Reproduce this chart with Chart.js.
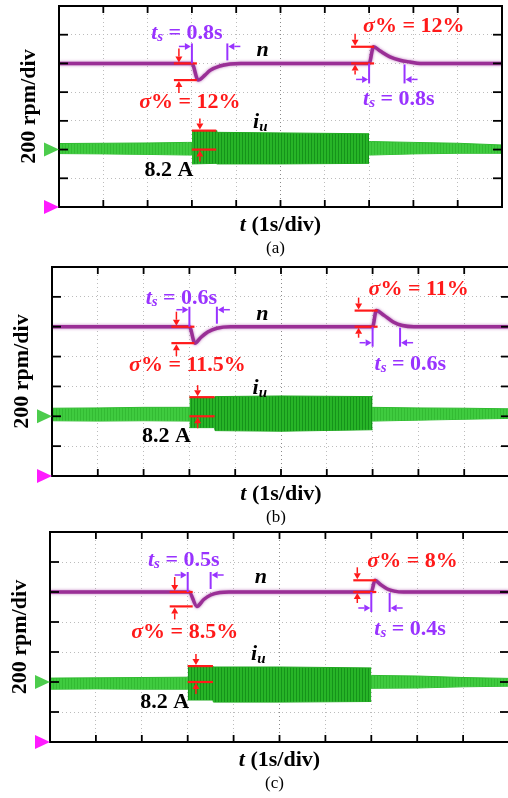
<!DOCTYPE html>
<html>
<head>
<meta charset="utf-8">
<script src="https://cdn.jsdelivr.net/npm/chart.js@4.4.0/dist/chart.umd.min.js"></script>
<style>
  html, body { margin: 0; padding: 0; background: #fff; overflow: hidden; }
  body { width: 508px; height: 798px; position: relative; }
  canvas { position: absolute; left: 0; }
</style>
</head>
<body>
<canvas id="scopeA" width="508" height="260" style="top:0px"></canvas>
<canvas id="scopeB" width="512" height="265" style="top:260px"></canvas>
<canvas id="scopeC" width="512" height="273" style="top:525px"></canvas>
<script>
// x: time in s (1 s/div), y: screen divisions (n: 200 rpm/div, i_u trace centred on div 2)
const eventT = [3, 7];       // load applied / removed
const currentZero = 2;       // i_u channel reference level
const ampA = 8.2, ampB = 8.2, ampC = 8.2;

// (a)
const speedTA = [0, 3.0, 3.14, 3.3, 3.41, 3.63, 3.86, 4.1, 7.0, 7.1, 7.25, 7.47, 7.7, 7.92, 8.15, 10];
const speedNA = [5, 5, 4.42, 4.6, 4.76, 4.91, 4.98, 5, 5, 5.58, 5.43, 5.23, 5.11, 5.05, 5, 5];
const idleTA = [0, 1, 2, 2.9, 3.0, 7.0, 7.05, 8, 9, 10];
const idleUpA = [2.21, 2.22, 2.23, 2.25, 2.25, 2.28, 2.28, 2.25, 2.22, 2.16];
const idleLoA = [1.86, 1.85, 1.83, 1.81, 1.81, 1.81, 1.81, 1.85, 1.87, 1.87];
const loadTA = [3.0, 3.55, 3.56, 5, 7.0];
const loadUpA = [2.66, 2.66, 2.6, 2.58, 2.55];
const loadLoA = [1.5, 1.52, 1.5, 1.5, 1.52];
const settleA = [0.8, 0.8];
const overshootA = [12, 12];

// (b)
const speedTB = [0, 3.0, 3.12, 3.25, 3.4, 3.6, 3.9, 7.0, 7.08, 7.25, 7.45, 7.65, 7.9, 10];
const speedNB = [5, 5, 4.45, 4.64, 4.82, 4.95, 5, 5, 5.54, 5.38, 5.16, 5.04, 5, 5];
const idleTB = [0, 1, 2, 3, 7, 8, 9, 10];
const idleUpB = [2.27, 2.28, 2.3, 2.3, 2.3, 2.28, 2.27, 2.25];
const idleLoB = [1.85, 1.84, 1.85, 1.84, 1.84, 1.87, 1.9, 1.93];
const loadTB = [3.0, 3.55, 3.56, 5, 7.0];
const loadUpB = [2.64, 2.64, 2.66, 2.68, 2.66];
const loadLoB = [1.62, 1.62, 1.52, 1.5, 1.55];
const settleB = [0.6, 0.6];
const overshootB = [11.5, 11];

// (c)
const speedTC = [0, 3.03, 3.2, 3.35, 3.5, 3.7, 3.9, 7.0, 7.08, 7.2, 7.35, 7.5, 7.7, 10];
const speedNC = [5, 5, 4.52, 4.75, 4.9, 4.98, 5, 5, 5.39, 5.25, 5.1, 5.03, 5, 5];
const idleTC = [0, 1, 2, 3, 7, 8, 9, 10];
const idleUpC = [2.13, 2.14, 2.15, 2.16, 2.22, 2.2, 2.15, 2.12];
const idleLoC = [1.76, 1.77, 1.76, 1.76, 1.79, 1.8, 1.84, 1.86];
const loadTC = [3.0, 3.55, 3.56, 5, 7.0];
const loadUpC = [2.53, 2.53, 2.5, 2.5, 2.47];
const loadLoC = [1.4, 1.4, 1.33, 1.33, 1.35];
const settleC = [0.5, 0.4];
const overshootC = [8.5, 8];

const RED = '#ff1a1a', VIOLET = '#9933ff', TRACE = '#9a2f96';
const SERIF = '"Liberation Serif", "Times New Roman", serif';
const F_B = 'bold 22px ' + SERIF;
const F_BI = 'italic bold 22px ' + SERIF;
const F_SUB = 'italic bold 15px ' + SERIF;

// vertical striping for the dense phase-current envelope
function stripes(base, dark) {
  const c = document.createElement('canvas');
  c.width = 3; c.height = 8;
  const g = c.getContext('2d');
  g.fillStyle = base; g.fillRect(0, 0, 3, 8);
  g.fillStyle = dark; g.fillRect(2, 0, 1, 8);
  return g.createPattern(c, 'repeat');
}

function rich(ctx, parts, x, y, align) {
  let w = 0;
  parts.forEach(p => { ctx.font = p[1]; w += ctx.measureText(p[0]).width; });
  let cx = align === 'center' ? x - w / 2 : align === 'right' ? x - w : x;
  ctx.textAlign = 'left';
  ctx.textBaseline = 'alphabetic';
  parts.forEach(p => {
    ctx.font = p[1];
    ctx.fillText(p[0], cx, y + (p[2] || 0));
    cx += ctx.measureText(p[0]).width;
  });
}

function arrow(ctx, x1, y1, x2, y2) {
  const a = Math.atan2(y2 - y1, x2 - x1), h = 6, w = 3.5;
  const c = Math.cos(a), s = Math.sin(a);
  ctx.beginPath();
  ctx.moveTo(x1, y1);
  ctx.lineTo(x2 - c * h, y2 - s * h);
  ctx.stroke();
  ctx.beginPath();
  ctx.moveTo(x2, y2);
  ctx.lineTo(x2 - c * h - s * w, y2 - s * h + c * w);
  ctx.lineTo(x2 - c * h + s * w, y2 - s * h - c * w);
  ctx.closePath();
  ctx.fill();
}

function line(ctx, x1, y1, x2, y2) {
  ctx.beginPath();
  ctx.moveTo(x1, y1);
  ctx.lineTo(x2, y2);
  ctx.stroke();
}

function tri(ctx, x, y, color) {
  ctx.fillStyle = color;
  ctx.beginPath();
  ctx.moveTo(x, y);
  ctx.lineTo(x - 15, y - 7);
  ctx.lineTo(x - 15, y + 7);
  ctx.closePath();
  ctx.fill();
}

function scope(id, d, box) {
  const canvas = document.getElementById(id);
  const W = canvas.width, H = canvas.height;
  const pts = (xs, ys) => xs.map((x, i) => ({ x: x, y: ys[i] }));
  const band = { pointRadius: 0, borderWidth: 1, tension: 0 };

  // soft edge on the speed trace, like the scope's noisy line
  const glow = {
    id: 'glow',
    beforeDatasetDraw(chart, args) {
      if (args.index !== 0) return;
      chart.ctx.save();
      chart.ctx.shadowColor = 'rgba(160, 60, 160, 0.7)';
      chart.ctx.shadowBlur = 3;
    },
    afterDatasetDraw(chart, args) {
      if (args.index === 0) chart.ctx.restore();
    }
  };

  const decor = {
    id: 'decor',
    afterDraw(chart) {
      const ctx = chart.ctx, a = chart.chartArea;
      const sx = chart.scales.x, sy = chart.scales.y;
      const X = v => sx.getPixelForValue(v);
      const Y = v => sy.getPixelForValue(v);
      ctx.save();

      // frame with inward tick marks
      ctx.strokeStyle = '#000';
      ctx.lineWidth = 2;
      ctx.strokeRect(a.left, a.top, a.right - a.left, a.bottom - a.top);
      ctx.lineWidth = 1.8;
      sx.ticks.forEach(t => {
        const x = X(t.value);
        line(ctx, x, a.top, x, a.top + 7);
        line(ctx, x, a.bottom, x, a.bottom - 7);
      });
      sy.ticks.forEach(t => {
        const y = Y(t.value);
        line(ctx, a.left, y, a.left + 9, y);
        line(ctx, a.right, y, a.right - 9, y);
      });

      // channel reference markers
      tri(ctx, a.left, Y(currentZero), '#4ccc4c');
      tri(ctx, a.left, Y(0), '#ff1aff');

      const t0 = eventT[0], t1 = eventT[1];
      const yN = Y(d.speedN[0]);
      const yDip = Y(Math.min(...d.speedN));
      const yPk = Y(Math.max(...d.speedN));
      const L = box.lab;

      // overshoot markers
      ctx.strokeStyle = RED; ctx.fillStyle = RED;
      ctx.lineWidth = 2.2;
      line(ctx, X(t0) - 18, yN, X(t0) + 5, yN);
      line(ctx, X(t0) - 18, yDip, X(t0) + 5, yDip);
      line(ctx, X(t1) - 18, yPk, X(t1) + 5, yPk);
      line(ctx, X(t1) - 18, yN, X(t1) + 5, yN);
      ctx.lineWidth = 1.5;
      arrow(ctx, X(t0) - 13, yN - 15, X(t0) - 13, yN - 1);
      arrow(ctx, X(t0) - 13, yDip + 13, X(t0) - 13, yDip + 1);
      arrow(ctx, X(t1) - 14, yPk - 13, X(t1) - 14, yPk - 1);
      arrow(ctx, X(t1) - 14, yN + 11, X(t1) - 14, yN + 1);

      // current amplitude marker
      const yTop = Y(d.loadUp[0]), yMid = Y(currentZero);
      ctx.lineWidth = 2.2;
      line(ctx, X(d.loadT[0]), yTop, X(d.loadT[1]), yTop);
      line(ctx, X(d.loadT[0]), yMid, X(d.loadT[1]), yMid);
      ctx.lineWidth = 1.5;
      arrow(ctx, X(3.18), yTop - 12, X(3.18), yTop - 1);
      arrow(ctx, X(3.18), yMid + 12, X(3.18), yMid + 1);

      // settling time markers
      const e0 = X(t0 + d.settle[0]), e1 = X(t1 + d.settle[1]);
      ctx.strokeStyle = VIOLET; ctx.fillStyle = VIOLET;
      ctx.lineWidth = 2;
      line(ctx, X(t0), yN - 20, X(t0), yN);
      line(ctx, e0, yN - 20, e0, yN - 3);
      line(ctx, X(t1), yN, X(t1), yN + 20);
      line(ctx, e1, yN + 1, e1, yN + 20);
      ctx.lineWidth = 1.5;
      arrow(ctx, X(t0) - 13, yN - 17, X(t0) - 1, yN - 17);
      arrow(ctx, e0 + 13, yN - 17, e0 + 1, yN - 17);
      arrow(ctx, X(t1) - 13, yN + 16, X(t1) - 1, yN + 16);
      arrow(ctx, e1 + 13, yN + 16, e1 + 1, yN + 16);

      // labels
      const tsText = v => [['t', F_BI], ['s', F_SUB, 2], [' = ' + v + 's', F_B]];
      const sgText = v => [['\u03c3', F_BI], ['% = ' + v + '%', F_B]];
      ctx.fillStyle = VIOLET;
      rich(ctx, tsText(d.settle[0]), X(t0) + L.tsL[0], yN + L.tsL[1], 'center');
      rich(ctx, tsText(d.settle[1]), X(t1) + L.tsR[0], yN + L.tsR[1], 'left');
      ctx.fillStyle = RED;
      rich(ctx, sgText(d.overshoot[0]), X(t0) + L.sgL[0], yDip + L.sgL[1], 'center');
      rich(ctx, sgText(d.overshoot[1]), X(t1) + L.sgR[0], yPk + L.sgR[1], 'left');
      ctx.fillStyle = '#000';
      rich(ctx, [['n', F_BI]], X(4.46), yN + L.nY, 'left');
      rich(ctx, [['i', F_BI], ['u', F_SUB, 3]], X(4.38), yMid - 22, 'left');
      rich(ctx, [[d.amp + ' A', F_B]], X(t0) + 1.5, yMid + 26, 'right');

      // axis titles and caption
      const midX = (a.left + a.right) / 2;
      rich(ctx, [['t', F_BI], [' (1s/div)', F_B]], midX, a.bottom + 24, 'center');
      rich(ctx, [[box.caption, '17px ' + SERIF]], midX - 5, a.bottom + 46, 'center');
      ctx.translate(a.left - 30, (a.top + a.bottom) / 2);
      ctx.rotate(-Math.PI / 2);
      ctx.font = F_B;
      ctx.textAlign = 'center';
      ctx.textBaseline = 'middle';
      ctx.fillText('200 rpm/div', 0, 0);
      ctx.restore();
    }
  };

  new Chart(canvas, {
    type: 'line',
    data: {
      datasets: [
        { data: pts(d.speedT, d.speedN), borderColor: TRACE, borderWidth: 3.5, pointRadius: 0,
          cubicInterpolationMode: 'monotone', fill: false },
        Object.assign({ data: pts(d.loadT, d.loadUp), borderColor: '#1fa81f',
          backgroundColor: stripes('#27b427', '#15931a'), fill: '+1' }, band),
        Object.assign({ data: pts(d.loadT, d.loadLo), borderColor: '#1fa81f', fill: false }, band),
        Object.assign({ data: pts(d.idleT, d.idleUp), borderColor: '#2fbb2f',
          backgroundColor: stripes('#3fcb3f', '#33bb33'), fill: '+1' }, band),
        Object.assign({ data: pts(d.idleT, d.idleLo), borderColor: '#2fbb2f', fill: false }, band)
      ]
    },
    options: {
      responsive: false,
      animation: false,
      events: [],
      layout: { padding: { left: box.l, top: box.t, right: W - box.r, bottom: H - box.b } },
      plugins: { legend: { display: false }, tooltip: { enabled: false } },
      scales: {
        x: {
          type: 'linear', min: 0, max: 10,
          ticks: { display: false, stepSize: 1 },
          grid: { drawTicks: false, color: c => c.tick && c.tick.value === 5 ? '#8a8a8a' : '#bcbcbc' },
          border: { display: false, dash: [1, 3] }
        },
        y: {
          min: 0, max: 7,
          ticks: { display: false, stepSize: 1 },
          grid: { drawTicks: false, color: '#bcbcbc' },
          border: { display: false, dash: [1, 3] }
        }
      }
    },
    plugins: [glow, decor]
  });
}

scope('scopeA', {
  speedT: speedTA, speedN: speedNA, idleT: idleTA, idleUp: idleUpA, idleLo: idleLoA,
  loadT: loadTA, loadUp: loadUpA, loadLo: loadLoA, settle: settleA, overshoot: overshootA, amp: ampA
}, { l: 59, t: 6, r: 502, b: 207, caption: '(a)',
     lab: { tsL: [-5, -24], tsR: [-6, 42], sgL: [-2, 28], sgR: [-6, -15], nY: -7 } });

scope('scopeB', {
  speedT: speedTB, speedN: speedNB, idleT: idleTB, idleUp: idleUpB, idleLo: idleLoB,
  loadT: loadTB, loadUp: loadUpB, loadLo: loadLoB, settle: settleB, overshoot: overshootB, amp: ampB
}, { l: 52, t: 7, r: 510, b: 216, caption: '(b)',
     lab: { tsL: [-8, -23], tsR: [2, 43], sgL: [-2, 28], sgR: [-4, -16], nY: -7 } });

scope('scopeC', {
  speedT: speedTC, speedN: speedNC, idleT: idleTC, idleUp: idleUpC, idleLo: idleLoC,
  loadT: loadTC, loadUp: loadUpC, loadLo: loadLoC, settle: settleC, overshoot: overshootC, amp: ampC
}, { l: 50, t: 7, r: 509, b: 217, caption: '(c)',
     lab: { tsL: [-4, -26], tsR: [3, 43], sgL: [-3, 32], sgR: [-4, -13], nY: -9 } });
</script>
</body>
</html>
